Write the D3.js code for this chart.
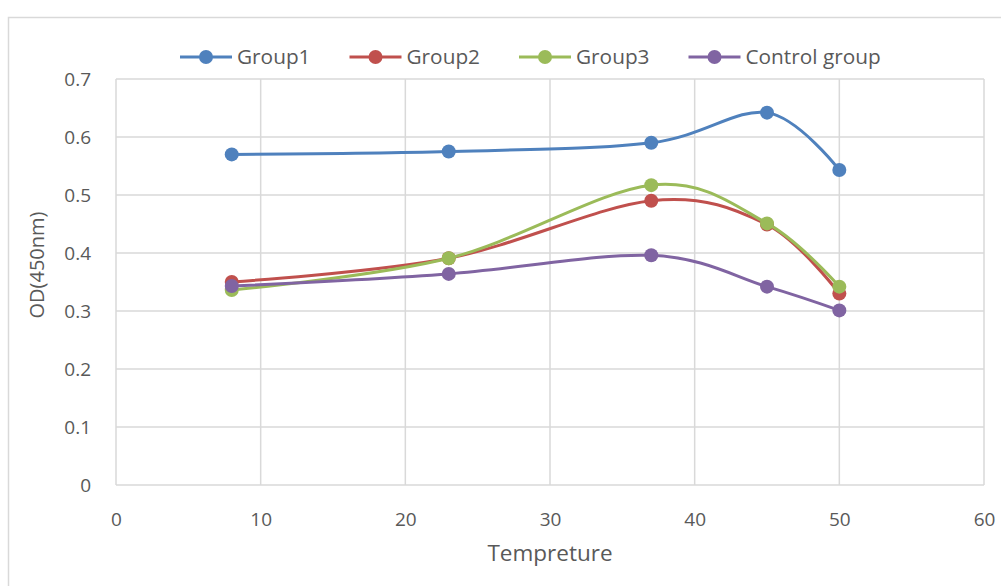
<!DOCTYPE html>
<html>
<head>
<meta charset="utf-8">
<script src="https://cdn.jsdelivr.net/npm/d3@7"></script>
<style>
  html, body { margin: 0; padding: 0; background: #fff; }
  svg { display: block; }
  text { font-family: "Open Sans", "Noto Sans", sans-serif; fill: #595959; }
</style>
</head>
<body>
<svg id="chart" width="1001" height="586"></svg>
<script>
// Temperatures at which OD was measured
const temperatures = [8, 23, 37, 45, 50];

// OD(450nm) readings per group
const group1 = [0.570, 0.575, 0.590, 0.642, 0.543];
const group2 = [0.350, 0.391, 0.490, 0.449, 0.330];
const group3 = [0.336, 0.391, 0.517, 0.451, 0.342];
const controlGroup = [0.343, 0.364, 0.396, 0.342, 0.301];

const seriesNames = ["Group1", "Group2", "Group3", "Control group"];
const seriesColors = ["#4F81BD", "#C0504D", "#9BBB59", "#8064A2"];
const seriesValues = [group1, group2, group3, controlGroup];

const xTicks = [0, 10, 20, 30, 40, 50, 60];
const yTicks = [0, 0.1, 0.2, 0.3, 0.4, 0.5, 0.6, 0.7];

const svg = d3.select("#chart");

// chart frame
svg.append("rect")
  .attr("x", 8.5).attr("y", 17.5)
  .attr("width", 1010).attr("height", 600)
  .attr("fill", "none").attr("stroke", "#d9d9d9").attr("stroke-width", 1.5);

const plot = { left: 116, right: 984, top: 79, bottom: 485 };

const x = d3.scaleLinear().domain([0, 60]).range([plot.left, plot.right]);
const y = d3.scaleLinear().domain([0, 0.7]).range([plot.bottom, plot.top]);

// gridlines
const grid = svg.append("g");
grid.selectAll("line.h").data(yTicks).join("line")
  .attr("x1", plot.left).attr("x2", plot.right)
  .attr("y1", d => y(d)).attr("y2", d => y(d))
  .attr("stroke", "#d9d9d9").attr("stroke-width", 1.5);
grid.selectAll("line.v").data(xTicks).join("line")
  .attr("y1", plot.top).attr("y2", plot.bottom)
  .attr("x1", d => x(d)).attr("x2", d => x(d))
  .attr("stroke", "#d9d9d9").attr("stroke-width", 1.5);

// axes (labels only; grid draws the lines)
const xAxis = svg.append("g")
  .attr("transform", `translate(0,${plot.bottom})`)
  .call(d3.axisBottom(x).tickValues(xTicks).tickSize(0).tickPadding(28).tickFormat(d3.format("d")));
xAxis.select(".domain").remove();
xAxis.selectAll("text").style("font-size", "19px").attr("fill", "#595959")
  .style("font-family", "'Open Sans', sans-serif");

const yAxis = svg.append("g")
  .attr("transform", `translate(${plot.left},0)`)
  .call(d3.axisLeft(y).tickValues(yTicks).tickSize(0).tickPadding(25)
    .tickFormat(d => d === 0 ? "0" : d3.format(".1f")(d)));
yAxis.select(".domain").remove();
yAxis.selectAll("text").style("font-size", "19px").attr("fill", "#595959")
  .style("font-family", "'Open Sans', sans-serif");

// axis titles
svg.append("text")
  .attr("x", 550).attr("y", 561)
  .attr("text-anchor", "middle").style("font-size", "22.5px")
  .text("Tempreture");
svg.append("text")
  .attr("transform", `translate(44,${(plot.top + plot.bottom) / 2 - 17}) rotate(-90)`)
  .attr("text-anchor", "middle").style("font-size", "20px")
  .text("OD(450nm)");

// series lines and markers
const line = d3.line()
  .x((d, i) => x(temperatures[i]))
  .y(d => y(d))
  .curve(d3.curveCardinal.tension(0));

seriesValues.forEach((vals, s) => {
  const g = svg.append("g");
  g.append("path")
    .datum(vals)
    .attr("d", line)
    .attr("fill", "none")
    .attr("stroke", seriesColors[s])
    .attr("stroke-width", 3)
    .attr("stroke-linecap", "round");
  g.selectAll("circle").data(vals).join("circle")
    .attr("cx", (d, i) => x(temperatures[i]))
    .attr("cy", d => y(d))
    .attr("r", 7)
    .attr("fill", seriesColors[s]);
});

// legend
const legend = svg.append("g").attr("transform", "translate(180,57)");
let lx = 0;
seriesNames.forEach((name, s) => {
  const item = legend.append("g").attr("transform", `translate(${lx},0)`);
  item.append("line").attr("x1", 0).attr("x2", 52).attr("y1", 0).attr("y2", 0)
    .attr("stroke", seriesColors[s]).attr("stroke-width", 3);
  item.append("circle").attr("cx", 26).attr("cy", 0).attr("r", 7).attr("fill", seriesColors[s]);
  const t = item.append("text").attr("x", 57).attr("y", 0).attr("dy", "0.35em")
    .style("font-size", "20.8px").text(name);
  lx += 57 + t.node().getComputedTextLength() + 39;
});
</script>
</body>
</html>
